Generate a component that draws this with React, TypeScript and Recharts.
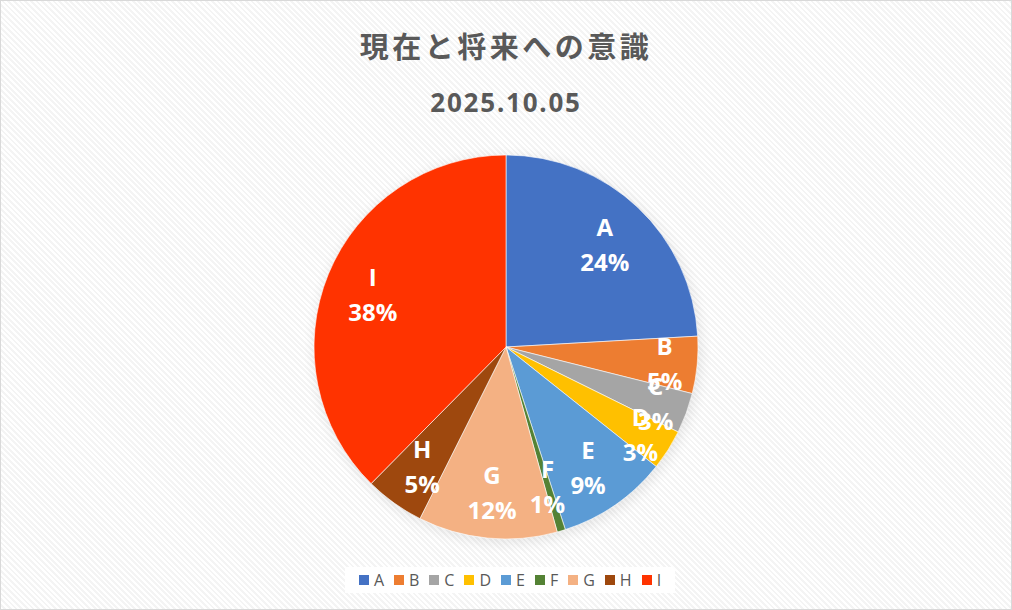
import { PieChart, Pie, Cell } from "recharts"

const categories = ["A", "B", "C", "D", "E", "F", "G", "H", "I"]
const shares = [24.1, 4.8, 3.4, 3.4, 9.3, 0.7, 11.7, 5.0, 37.6]
const colors = [
  "#4472C4", "#ED7D31", "#A5A5A5", "#FFC000", "#5B9BD5",
  "#548235", "#F4B183", "#9E480E", "#FF3300",
]
const title = "現在と将来への意識"
const subtitle = "2025.10.05"

const data = categories.map((name, i) => ({ name, value: shares[i] }))

const RADIAN = Math.PI / 180
/* crowded thin slices get pushed towards the rim, like Excel's best fit */
const RIM_LABELS = new Set(["B", "C", "D"])

function SliceLabel(props: {
  cx?: number; cy?: number; midAngle?: number; outerRadius?: number
  percent?: number; name?: string
}) {
  const { cx = 0, cy = 0, midAngle = 0, outerRadius = 0, percent = 0, name = "" } = props
  const r = outerRadius * (RIM_LABELS.has(name) ? 0.83 : 0.75)
  const x = cx + r * Math.cos(-midAngle * RADIAN)
  const y = cy + r * Math.sin(-midAngle * RADIAN)
  const style = { fontFamily: "'Open Sans', sans-serif", fontWeight: 700, fontSize: 24 }
  return (
    <g>
      <text x={x} y={y - 16} fill="#fff" textAnchor="middle" dominantBaseline="central" style={style}>
        {name}
      </text>
      <text x={x} y={y + 19} fill="#fff" textAnchor="middle" dominantBaseline="central" style={style}>
        {Math.round(percent * 100)}%
      </text>
    </g>
  )
}

const NO_MARGIN = { top: 0, right: 0, bottom: 0, left: 0 }

export default function App() {
  return (
    <div
      style={{
        position: "absolute",
        top: 0,
        left: 0,
        width: 1010,
        height: 608,
        border: "1px solid #d9d9d9",
        background:
          "repeating-linear-gradient(45deg, #ffffff 0px, #ffffff 2px, #f4f4f4 2px, #f4f4f4 4px)",
        overflow: "hidden",
      }}
    >
      <style>{`.pie-shadow { filter: blur(5px); opacity: 0.3; }`}</style>

      {/* Titles */}
      <div
        style={{
          position: "absolute", top: 24, left: 0, width: "100%", textAlign: "center",
          fontFamily: "'Noto Sans CJK JP', sans-serif", fontWeight: 700, fontSize: 29,
          letterSpacing: 3.5, color: "#595959", lineHeight: "40px",
        }}
      >
        {title}
      </div>
      <div
        style={{
          position: "absolute", top: 83, left: 0, width: "100%", textAlign: "center",
          fontFamily: "'Noto Sans', sans-serif", fontWeight: 700, fontSize: 26,
          letterSpacing: 1.8, color: "#595959", lineHeight: "36px",
        }}
      >
        {subtitle}
      </div>

      <div style={{ position: "absolute", top: -1, left: -1 }}>
        <PieChart width={1012} height={610} margin={NO_MARGIN}>
          {/* soft shadow under the pie */}
          <Pie
            data={data}
            dataKey="value"
            nameKey="name"
            cx={508}
            cy={350}
            outerRadius={193}
            startAngle={90}
            endAngle={-270}
            fill="#000"
            stroke="none"
            className="pie-shadow"
            legendType="none"
            label={false}
            isAnimationActive={false}
          />
          <Pie
            data={data}
            dataKey="value"
            nameKey="name"
            cx={506}
            cy={347}
            outerRadius={192}
            startAngle={90}
            endAngle={-270}
            stroke="#ffffff"
            strokeWidth={0.6}
            labelLine={false}
            label={<SliceLabel />}
            isAnimationActive={false}
          >
            {data.map((d, i) => (
              <Cell key={d.name} fill={colors[i]} />
            ))}
          </Pie>
        </PieChart>
      </div>

      {/* Legend */}
      <div
        style={{
          position: "absolute", top: 566, left: 344, width: 330, height: 26,
          background: "#fff", display: "flex", alignItems: "center", justifyContent: "center",
          gap: 10, fontFamily: "'Open Sans', sans-serif", fontSize: 16, color: "#595959",
        }}
      >
        {categories.map((c, i) => (
          <div key={c} style={{ display: "flex", alignItems: "center", gap: 5 }}>
            <div style={{ width: 10, height: 10, background: colors[i] }} />
            <span style={{ lineHeight: "16px" }}>{c}</span>
          </div>
        ))}
      </div>
    </div>
  )
}
